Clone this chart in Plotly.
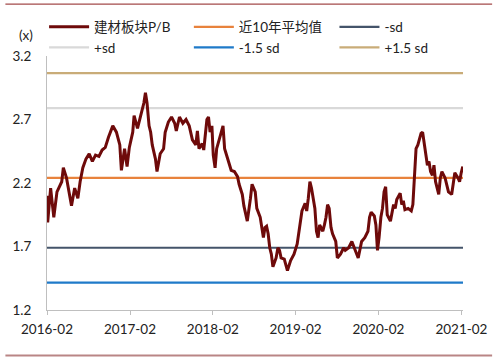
import pandas as pd
import plotly.graph_objects as go

# ---- data ----
start_date = "2016-02-01"
end_date = "2021-02-08"
day_offsets = [
    0, 3, 16, 30, 44, 65, 72, 86, 108, 122, 136, 146, 158, 172, 186, 200, 214, 229, 243, 257,
    271, 290, 306, 321, 328, 342, 353, 363, 378, 384, 399, 413, 427, 434, 441, 450, 457, 464, 478, 485,
    499, 514, 521, 535, 549, 563, 570, 584, 599, 613, 627, 641, 656, 663, 670, 684, 691, 705, 712, 719,
    727, 733, 741, 748, 762, 776, 783, 797, 812, 826, 840, 847, 861, 868, 876, 883, 897, 904, 918, 925,
    940, 946, 954, 961, 968, 975, 982, 989, 996, 1010, 1018, 1025, 1032, 1046, 1060, 1074, 1089, 1103, 1117, 1124,
    1138, 1145, 1152, 1159, 1166, 1174, 1181, 1188, 1195, 1202, 1216, 1223, 1230, 1237, 1244, 1252, 1259, 1273, 1280, 1294,
    1308, 1315, 1330, 1344, 1358, 1372, 1387, 1401, 1415, 1422, 1429, 1443, 1450, 1457, 1464, 1472, 1479, 1486, 1493, 1500,
    1514, 1521, 1528, 1535, 1542, 1557, 1564, 1571, 1578, 1592, 1606, 1613, 1620, 1627, 1635, 1642, 1649, 1656, 1663, 1670,
    1677, 1684, 1691, 1699, 1706, 1713, 1720, 1727, 1734, 1741, 1755, 1762, 1770, 1784, 1791, 1798, 1812, 1819, 1826, 1833,
]
pb_values = [
    2.10, 1.89, 2.16, 1.93, 2.13, 2.21, 2.32, 2.24, 2.02, 2.16, 2.08, 2.21, 2.32, 2.39, 2.43, 2.37, 2.42, 2.41, 2.46, 2.48,
    2.56, 2.65, 2.60, 2.50, 2.30, 2.47, 2.33, 2.48, 2.60, 2.73, 2.63, 2.73, 2.83, 2.91, 2.83, 2.65, 2.60, 2.50, 2.39, 2.29,
    2.43, 2.47, 2.60, 2.68, 2.72, 2.67, 2.61, 2.72, 2.67, 2.70, 2.65, 2.54, 2.50, 2.61, 2.47, 2.51, 2.46, 2.70, 2.72, 2.60,
    2.65, 2.42, 2.32, 2.47, 2.56, 2.65, 2.47, 2.38, 2.30, 2.29, 2.25, 2.19, 2.11, 2.02, 1.95, 1.90, 2.08, 2.19, 2.13, 2.00,
    1.93, 1.87, 1.77, 1.85, 1.86, 1.80, 1.69, 1.64, 1.54, 1.61, 1.69, 1.67, 1.61, 1.60, 1.51, 1.59, 1.64, 1.72, 1.87, 1.98,
    2.04, 1.98, 2.08, 2.21, 2.16, 2.06, 2.00, 1.82, 1.77, 1.87, 1.82, 1.87, 1.93, 2.03, 2.00, 1.85, 1.80, 1.74, 1.61, 1.64,
    1.69, 1.67, 1.69, 1.74, 1.67, 1.61, 1.74, 1.77, 1.82, 1.93, 1.97, 1.94, 1.87, 1.67, 1.77, 1.93, 2.00, 2.13, 2.17, 1.95,
    1.90, 1.98, 2.03, 2.00, 2.07, 2.12, 2.03, 2.06, 1.99, 2.00, 1.98, 2.03, 2.24, 2.47, 2.50, 2.55, 2.59, 2.60, 2.50, 2.42,
    2.34, 2.37, 2.29, 2.26, 2.34, 2.21, 2.16, 2.11, 2.24, 2.29, 2.24, 2.19, 2.13, 2.11, 2.21, 2.28, 2.24, 2.21, 2.28, 2.33,
]
mean_10y = 2.24
std_10y = 0.55

band_names = ["近10年平均值", "-sd", "+sd", "-1.5 sd", "+1.5 sd"]
band_multipliers = [0, -1, 1, -1.5, 1.5]
band_colors = ["#E8823C", "#44546A", "#D9D9D9", "#1F7AC9", "#C9AC78"]
band_legend_groups = ["legend2", "legend3", "legend", "legend2", "legend3"]

tick_dates = ["2016-02-01", "2017-02-01", "2018-02-01", "2019-02-01", "2020-02-01", "2021-02-01"]
tick_labels = ["2016-02", "2017-02", "2018-02", "2019-02", "2020-02", "2021-02"]
y_ticks = [1.2, 1.7, 2.2, 2.7, 3.2]

dates = pd.to_datetime(start_date) + pd.to_timedelta(day_offsets, unit="D")

FONT = "Lato, 'Noto Sans CJK SC', sans-serif"
TXT = dict(family=FONT, size=13.5, color="#222")

fig = go.Figure()
for i, (name, m, c, lg) in enumerate(zip(band_names, band_multipliers, band_colors, band_legend_groups)):
    val = mean_10y + m * std_10y
    fig.add_trace(go.Scatter(
        x=[start_date, end_date], y=[val, val], mode="lines", name=name,
        line=dict(color=c, width=2.2), legend=lg, legendrank=i + 2, hoverinfo="skip",
    ))
fig.add_trace(go.Scatter(
    x=dates, y=pb_values, mode="lines", name="建材板块P/B",
    line=dict(color="#6E0A0A", width=3), legend="legend", legendrank=1,
))

legend_common = dict(
    orientation="v", xanchor="left", y=1.175, yanchor="top",
    font=TXT, bgcolor="rgba(0,0,0,0)", itemwidth=40, tracegroupgap=0,
)

fig.update_layout(
    width=500, height=358,
    margin=dict(l=41, r=28, t=53, b=48),
    paper_bgcolor="white", plot_bgcolor="white",
    font=TXT,
    showlegend=True,
    legend=dict(x=-0.007, **legend_common),
    legend2=dict(x=0.341, **legend_common),
    legend3=dict(x=0.691, **legend_common),
    xaxis=dict(
        type="date", range=[start_date, end_date],
        tickvals=tick_dates, ticktext=tick_labels,
        showline=True, linecolor="#BFBFBF", linewidth=1,
        ticks="outside", ticklen=4, tickcolor="#BFBFBF",
        showgrid=False, zeroline=False, tickangle=0, ticklabelstandoff=3,
        tickfont=TXT,
    ),
    yaxis=dict(
        range=[1.2, 3.2], tickvals=y_ticks, ticktext=[f"{v:.1f}" for v in y_ticks],
        showline=True, linecolor="#BFBFBF", linewidth=1,
        ticks="", showgrid=False, zeroline=False, ticklabelstandoff=12,
        tickfont=TXT,
    ),
    annotations=[dict(
        text="(x)", xref="paper", yref="paper", x=-0.051, y=1.082,
        xanchor="center", yanchor="middle", showarrow=False, font=TXT,
    )],
    shapes=[
        dict(type="line", xref="paper", yref="paper", x0=-0.1, x1=1.07,
             y0=1.204, y1=1.204, line=dict(color="#A34A4A", width=1.2)),
        dict(type="line", xref="paper", yref="paper", x0=-0.1, x1=1.07,
             y0=-0.179, y1=-0.179, line=dict(color="#B98585", width=2)),
    ],
)

fig.write_html(
    "out.html",
    config={"displayModeBar": False},
    post_script="document.body.style.margin='0';document.body.style.padding='0';",
)
